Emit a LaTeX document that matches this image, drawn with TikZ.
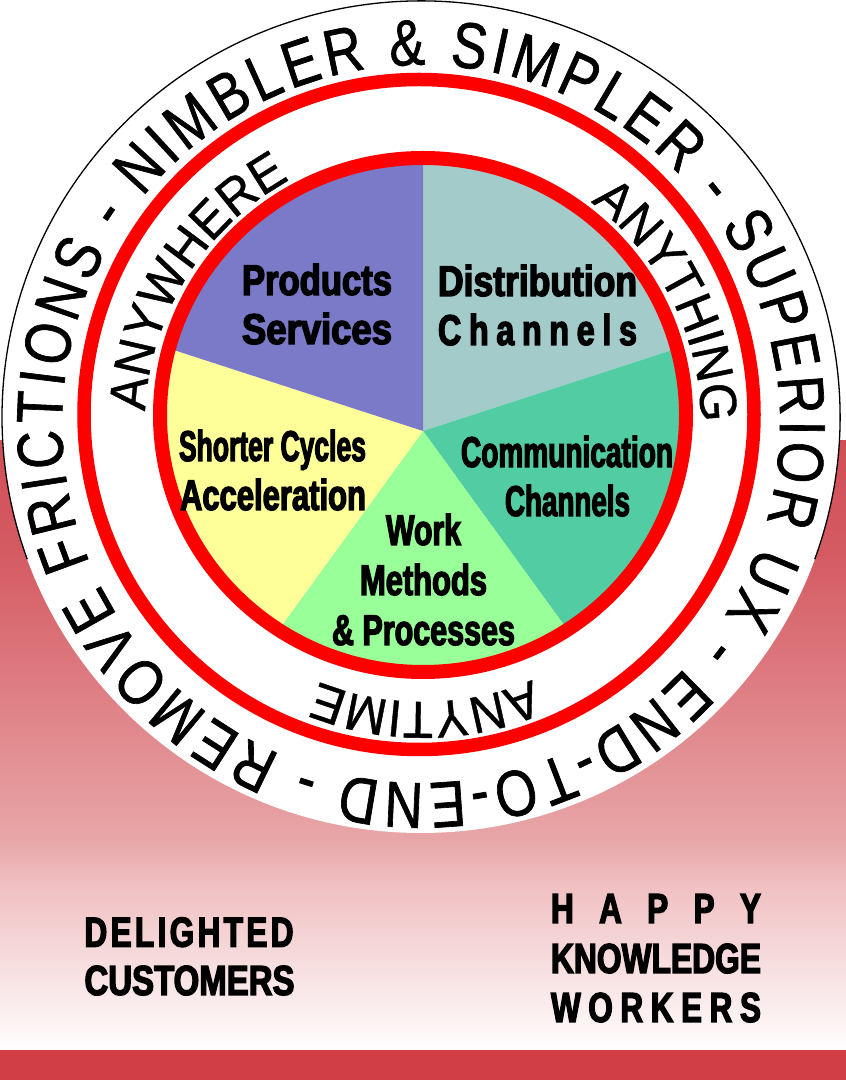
\documentclass[tikz,border=0pt]{standalone}
\usepackage{fontspec}
\usepackage{graphicx}
\setmainfont{Liberation Sans}
\newfontfamily\ringfont{Liberation Sans}[FakeStretch=0.82,FakeBold=1]
\newfontfamily\innerfont{Liberation Sans}[FakeStretch=0.95,FakeBold=0.8]
\newfontfamily\condf{Liberation Sans}[FakeStretch=0.75,FakeBold=3]

\definecolor{ringred}{RGB}{255,0,0}
\definecolor{cPurple}{RGB}{122,122,200}
\definecolor{cLtTeal}{RGB}{163,203,202}
\definecolor{cTeal}{RGB}{82,204,163}
\definecolor{cGreen}{RGB}{153,255,153}
\definecolor{cYellow}{RGB}{255,255,153}
\definecolor{bandred}{RGB}{210,62,70}
\definecolor{gA}{RGB}{254,251,251}
\definecolor{gB}{RGB}{253,246,246}
\definecolor{gC}{RGB}{246,220,221}
\definecolor{gD}{RGB}{240,190,192}
\definecolor{gE}{RGB}{232,166,168}
\definecolor{gF}{RGB}{213,92,100}
\definecolor{gG}{RGB}{209,78,86}

\pgfdeclareverticalshading{bgshade}{846pt}{color(0pt)=(white); color(10pt)=(gA); color(20pt)=(gB); color(90pt)=(gC); color(170pt)=(gD); color(210pt)=(gE); color(490pt)=(gF); color(610pt)=(gG)}

\newlength\chw
\def\spc{_}
\def\outerfontcmd{\ringfont\fontsize{65}{65}\selectfont}
\def\innerfontcmd{\innerfont\fontsize{52}{52}\selectfont}
% measure character widths of a list (outside the picture)
% #1 key, #2 font commands, #3 list macro
\newcommand\ringprep[3]{%
  \gdef\totw{0}\gdef\nch{0}%
  \foreach \ch [count=\ci] in #3{%
    \ifx\ch\spc\settowidth{\chw}{#2\ }\else\settowidth{\chw}{#2\ch}\fi
    \expandafter\xdef\csname rw-#1-\ci\endcsname{\the\chw}%
    \pgfmathsetmacro\rtmpa{\totw+\chw}\xdef\totw{\rtmpa}%
    \xdef\nch{\ci}%
  }%
  \expandafter\xdef\csname rtot-#1\endcsname{\totw}%
  \expandafter\xdef\csname rn-#1\endcsname{\nch}%
}
% #1 key, #2 centre, #3 radius, #4 start angle, #5 extra gap, #6 list macro, #7 font commands
\newcommand\ringtext[7]{%
  \xdef\curang{#4}%
  \foreach \ch [count=\ci] in #6{%
    \pgfmathsetmacro\da{\csname rw-#1-\ci\endcsname/(#3)*180/pi}%
    \pgfmathsetmacro\midang{\curang-\da/2}%
    \pgfmathsetmacro\rotang{\midang-90}%
    \ifx\ch\spc\else
      \node[inner sep=0pt, outer sep=0pt, anchor=base, rotate=\rotang, font=#7] (#1\ci) at ([shift={(\midang:#3)}]#2) {\ch};%
    \fi
    \pgfmathsetmacro\rtmpc{\curang-\da-(#5)/(#3)*180/pi}%
    \xdef\curang{\rtmpc}%
  }%
}
\def\outerlist{R,E,M,O,V,E,_,F,R,I,C,T,I,O,N,S,_,-,_,N,I,M,B,L,E,R,_,\&,_,S,I,M,P,L,E,R,_,-,_,S,U,P,E,R,I,O,R,_,U,X,_,-,_,E,N,D,-,T,O,-,E,N,D,_,-,_}
\def\listA{A,N,Y,W,H,E,R,E}
\def\listB{A,N,Y,T,H,I,N,G}
\def\listC{A,N,Y,T,I,M,E}
\AtBeginDocument{%
  \ringprep{o}{\outerfontcmd}{\outerlist}%
  \ringprep{a}{\innerfontcmd}{\listA}%
  \ringprep{b}{\innerfontcmd}{\listB}%
  \ringprep{c}{\innerfontcmd}{\listC}%
}

\tikzset{
  lbl/.style={inner sep=0pt, outer sep=0pt, anchor=base west, font=\condf\bfseries\fontsize{43}{43}\selectfont},
  blbl/.style={inner sep=0pt, outer sep=0pt, anchor=base west, font=\condf\bfseries\fontsize{42}{42}\selectfont},
  ring/.style={draw=ringred},
}

\begin{document}
\begin{tikzpicture}[x=1pt,y=1pt]
\useasboundingbox (0,0) rectangle (846,1080);
% background gradient and band
\node[inner sep=0pt, outer sep=0pt, anchor=south west] (bg) at (0,30) {\pgfuseshading{bgshade}};
\fill[bandred] (0,0) rectangle (846,30);
% outer white disc with thin outline on the upper part
\fill[white] (421,663) ellipse [x radius=419, y radius=416];
\draw[line width=1.3pt] ([shift={(-20:419 and 416)}]421,663) arc [start angle=-20, end angle=200, x radius=419, y radius=416];
% pie
\coordinate (apex) at (423,649);
\begin{scope}
  \clip (423,665) ellipse [x radius=263, y radius=257];
  \fill[cLtTeal] (apex) -- ++(90:400) arc [start angle=90, end angle=18, radius=400] -- cycle;
  \fill[cTeal] (apex) -- ++(18:400) arc [start angle=18, end angle=-54, radius=400] -- cycle;
  \fill[cGreen] (apex) -- ++(-54:400) arc [start angle=-54, end angle=-126, radius=400] -- cycle;
  \fill[cYellow] (apex) -- ++(-126:400) arc [start angle=-126, end angle=-198, radius=400] -- cycle;
  \fill[cPurple] (apex) -- ++(162:400) arc [start angle=162, end angle=90, radius=400] -- cycle;
\end{scope}
% red rings
\draw[ring, line width=13.5pt] (419,665.5) circle [radius=335];
\draw[ring, line width=14pt] (423,665) ellipse [x radius=263, y radius=257];
% outer circular text
\pgfmathsetmacro\outerextra{(2*pi*359-\csname rtot-o\endcsname)/\csname rn-o\endcsname}
\ringtext{o}{421,656}{359}{247}{\outerextra}{\outerlist}{\outerfontcmd}
% inner circular texts
\ringtext{a}{423,656}{278}{177.4}{0}{\listA}{\innerfontcmd}
\ringtext{b}{423,656}{278}{52.9}{0}{\listB}{\innerfontcmd}
\ringtext{c}{423,656}{278}{-66.9}{0}{\listC}{\innerfontcmd}
% pie labels
\node[lbl] (prod) at (242,785) {\resizebox{150pt}{\height}{Products}};
\node[lbl] (serv) at (242,736) {\resizebox{150pt}{\height}{Services}};
\node[lbl] (dist) at (438,784) {\resizebox{199pt}{\height}{Distribution}};
\node[lbl] (dch) at (438,735) {\makebox[199pt][s]{C\hfill h\hfill a\hfill n\hfill n\hfill e\hfill l\hfill s}};
\node[lbl] (short) at (179,619) {\resizebox{187pt}{\height}{Shorter Cycles}};
\node[lbl] (acc) at (180,570) {\resizebox{186pt}{\height}{Acceleration}};
\node[lbl] (comm) at (461,613) {\resizebox{212pt}{\height}{Communication}};
\node[lbl] (cch) at (505,564) {\resizebox{125pt}{\height}{Channels}};
\node[lbl] (work) at (386,535) {\resizebox{75pt}{\height}{Work}};
\node[lbl] (meth) at (360,485) {\resizebox{127pt}{\height}{Methods}};
\node[lbl] (proc) at (332,435) {\resizebox{183pt}{\height}{\& Processes}};
% bottom labels
\node[blbl] (deli) at (84.5,133.3) {\makebox[209pt][s]{D\hfill E\hfill L\hfill I\hfill G\hfill H\hfill T\hfill E\hfill D}};
\node[blbl] (cust) at (84.5,85) {\resizebox{210pt}{\height}{CUSTOMERS}};
\node[blbl] (happy) at (551,157) {\makebox[210pt][s]{H\hfill A\hfill P\hfill P\hfill Y}};
\node[blbl] (know) at (551,107) {\resizebox{210pt}{\height}{KNOWLEDGE}};
\node[blbl] (work2) at (551,58) {\makebox[210pt][s]{W\hfill O\hfill R\hfill K\hfill E\hfill R\hfill S}};
\end{tikzpicture}
\end{document}
